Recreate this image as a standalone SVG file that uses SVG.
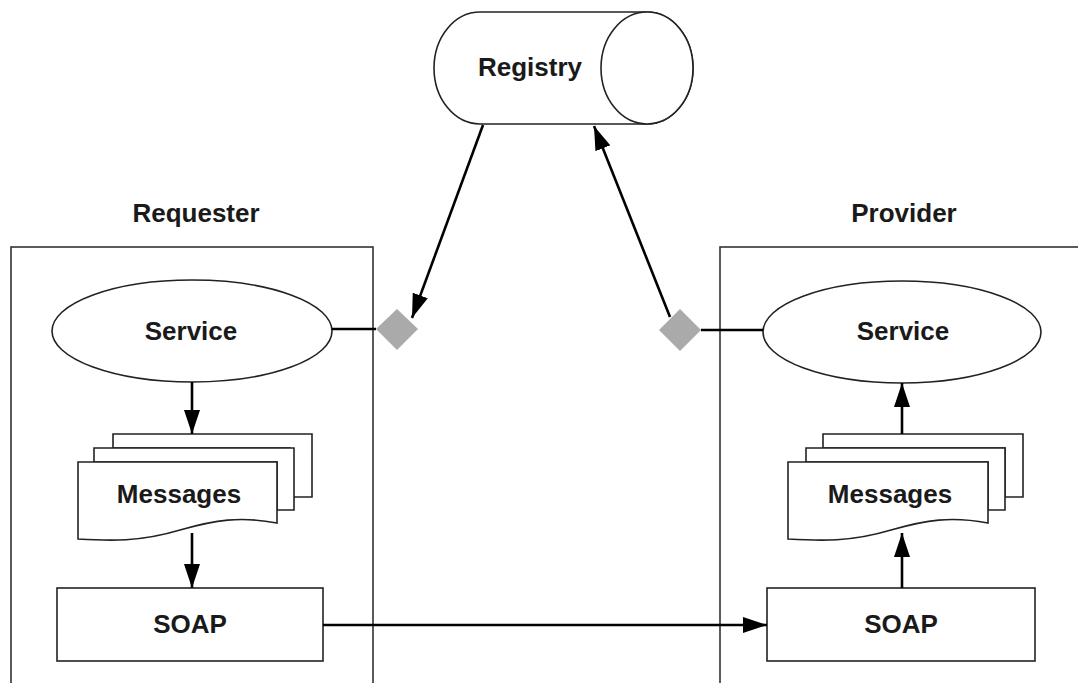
<svg xmlns="http://www.w3.org/2000/svg" width="1078" height="683" viewBox="0 0 1078 683">
<style>
.frame{fill:none;stroke:#333;stroke-width:1.6}
.shape{fill:#fff;stroke:#222;stroke-width:1.6}
.lbl{font-family:"Liberation Sans",Arial,sans-serif;font-weight:bold;font-size:26px;fill:#1a1a1a;text-anchor:middle}
.conn{fill:none;stroke:#000;stroke-width:2.6}
.dia{fill:#aaaaaa}
</style>
<defs>
<marker id="ah" markerUnits="userSpaceOnUse" markerWidth="24" markerHeight="16" refX="24" refY="8" orient="auto">
<path d="M0,0 L24,8 L0,16 z" fill="#000"/>
</marker>
</defs>
<rect width="1078" height="683" fill="#fff"/>

<g id="requester">
<rect class="frame" x="11" y="247" width="362" height="450"/>
<text class="lbl" x="196" y="222">Requester</text>
</g>
<g id="provider">
<rect class="frame" x="720" y="247" width="400" height="450"/>
<text class="lbl" x="904" y="222">Provider</text>
</g>

<g id="registry">
<path class="shape" d="M480,12 L647,12 A46,56 0 0 1 647,124 L480,124 A46,56 0 0 1 480,12 z"/>
<ellipse class="shape" cx="647" cy="68" rx="46" ry="56"/>
<text class="lbl" x="530" y="76">Registry</text>
</g>

<g id="req-service">
<ellipse class="shape" cx="192" cy="331" rx="140" ry="51"/>
<text class="lbl" x="191" y="340">Service</text>
</g>
<g id="prov-service">
<ellipse class="shape" cx="902" cy="332" rx="139" ry="51"/>
<text class="lbl" x="903" y="340">Service</text>
</g>

<g id="req-messages">
<path class="shape" d="M113,434 L312,434 L312,497 L290,497 L290,448 L113,448 z"/>
<path class="shape" d="M94,448 L294,448 L294,510 L277,510 L277,462 L94,462 z"/>
<path class="shape" d="M78,462 L277,462 L277,523 C240,516 215,520 180,530 C140,542 110,541 78,539 z"/>
<text class="lbl" x="179" y="503">Messages</text>
</g>
<g id="prov-messages">
<path class="shape" d="M823,434 L1023,434 L1023,497 L1005,497 L1005,448 L823,448 z"/>
<path class="shape" d="M806,448 L1005,448 L1005,510 L988,510 L988,462 L806,462 z"/>
<path class="shape" d="M788,462 L988,462 L988,523 C951,516 926,520 891,530 C851,542 821,541 788,539 z"/>
<text class="lbl" x="890" y="503">Messages</text>
</g>

<g id="req-soap">
<rect class="shape" x="57" y="588" width="266" height="73"/>
<text class="lbl" x="190" y="633">SOAP</text>
</g>
<g id="prov-soap">
<rect class="shape" x="767" y="588" width="268" height="73"/>
<text class="lbl" x="901" y="633">SOAP</text>
</g>

<g id="req-port"><path class="dia" d="M397,309 L418,329 L397,350 L376,329 z"/></g>
<g id="prov-port"><path class="dia" d="M680,309 L701,330 L680,351 L659,330 z"/></g>

<g id="connectors">
<line class="conn" x1="332" y1="329" x2="376" y2="329"/>
<line class="conn" x1="701" y1="330" x2="763" y2="330"/>
<line class="conn" x1="483" y1="125" x2="412" y2="318" marker-end="url(#ah)"/>
<line class="conn" x1="670" y1="317" x2="594" y2="126" marker-end="url(#ah)"/>
<line class="conn" x1="192" y1="382" x2="192" y2="434" marker-end="url(#ah)"/>
<line class="conn" x1="192" y1="533" x2="192" y2="588" marker-end="url(#ah)"/>
<line class="conn" x1="323" y1="625" x2="767" y2="625" marker-end="url(#ah)"/>
<line class="conn" x1="902" y1="588" x2="902" y2="533" marker-end="url(#ah)"/>
<line class="conn" x1="902" y1="434" x2="902" y2="383" marker-end="url(#ah)"/>
</g>
</svg>
